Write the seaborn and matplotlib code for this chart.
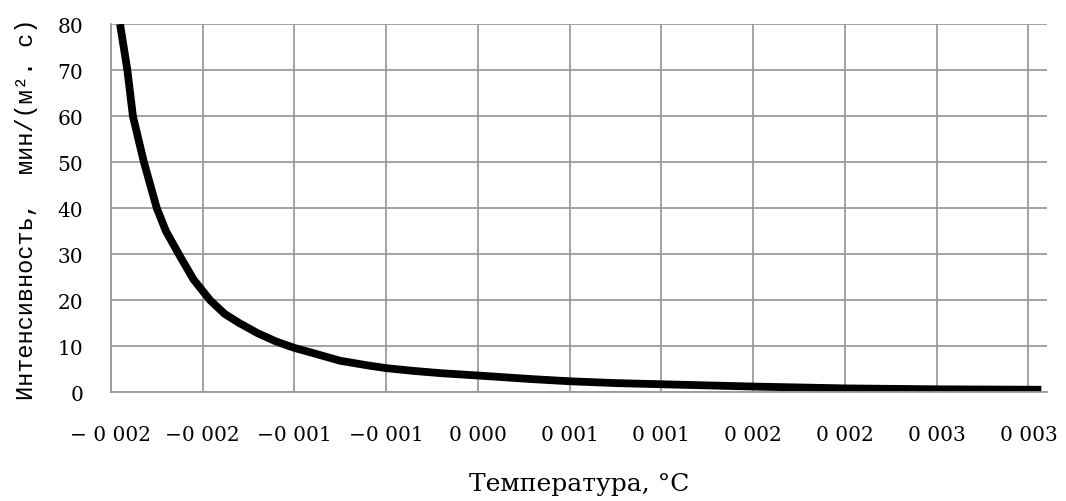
import matplotlib
matplotlib.use("Agg")
import matplotlib.pyplot as plt
import seaborn as sns
import pandas as pd

# Temperature (°C) and intensity values of the curve
temperature = [
    -0.00195, -0.00191, -0.00188, -0.00182, -0.00175, -0.00170, -0.00163,
    -0.00155, -0.00146, -0.00138, -0.00130, -0.00120, -0.00110, -0.00100,
    -0.00090, -0.00075, -0.00060, -0.00050, -0.00035, -0.00020, 0.00000,
    0.00015, 0.00030, 0.00050, 0.00075, 0.00100, 0.00125, 0.00150,
    0.00175, 0.00200, 0.00225, 0.00250, 0.00280, 0.00307,
]
intensity = [
    80.0, 70.0, 60.0, 50.0, 40.0, 35.0, 30.0,
    24.5, 20.0, 17.0, 15.0, 12.8, 11.0, 9.6,
    8.5, 6.8, 5.8, 5.2, 4.6, 4.1, 3.6,
    3.2, 2.8, 2.35, 1.95, 1.7, 1.45, 1.2,
    1.0, 0.8, 0.7, 0.6, 0.55, 0.5,
]

x_ticks = [-0.002, -0.0015, -0.001, -0.0005, 0.0, 0.0005, 0.001,
           0.0015, 0.002, 0.0025, 0.003]
x_tick_labels = ["\u2212 0 002", "\u22120 002", "\u22120 001", "\u22120 001",
                 "0 000", "0 001", "0 001", "0 002", "0 002", "0 003", "0 003"]
y_ticks = [0, 10, 20, 30, 40, 50, 60, 70, 80]

x_label = "Температура, °С"
y_label = "Интенсивность,  мин/(м². с)"

sns.set_theme(style="white")
plt.rcParams["font.family"] = ["DejaVu Serif", "Liberation Serif"]

grid_color = "#9c9c9c"

fig = plt.figure(figsize=(10.66, 5.02), dpi=100)
ax = fig.add_axes([0.104, 0.217, 0.878, 0.733])

df = pd.DataFrame({"t": temperature, "i": intensity})
sns.lineplot(data=df, x="t", y="i", ax=ax, color="black", linewidth=5.6,
             sort=False, estimator=None)
for ln in ax.lines:
    ln.set_solid_capstyle("butt")
    ln.set_solid_joinstyle("round")

ax.set_xlim(-0.002, 0.0031)
ax.set_ylim(0, 80)
ax.set_xticks(x_ticks)
ax.set_xticklabels(x_tick_labels)
ax.set_yticks(y_ticks)
ax.set_yticklabels([str(v) for v in y_ticks])

ax.grid(True, color=grid_color, linewidth=1.3)
ax.set_axisbelow(True)
for side in ["top", "right"]:
    ax.spines[side].set_visible(False)
for side in ["left", "bottom"]:
    ax.spines[side].set_color(grid_color)
    ax.spines[side].set_linewidth(1.3)

ax.tick_params(axis="both", which="major", direction="out", length=6,
               width=1.3, color=grid_color, labelsize=14.5, labelcolor="black")
ax.tick_params(axis="x", pad=18)
ax.tick_params(axis="y", pad=14)

ax.set_xlabel(x_label, fontsize=18, labelpad=20, color="black",
              family=["DejaVu Serif"])
ax.yaxis.set_label_coords(-0.078, 0.52)
ax.set_ylabel(y_label, fontsize=17, color="black",
              family=["Liberation Mono", "DejaVu Sans Mono"])

fig.savefig("out.png", dpi=100, facecolor="white")
